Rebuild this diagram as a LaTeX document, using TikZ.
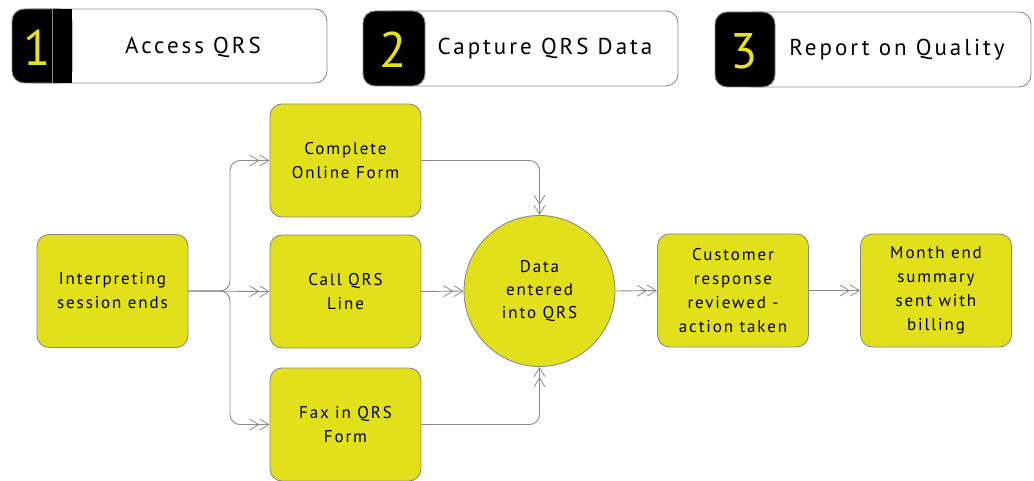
\documentclass[tikz,border=0pt]{standalone}
\usepackage{fontspec}
\setmainfont[LetterSpace=11]{PT Sans}
\usetikzlibrary{arrows.meta,positioning}
\definecolor{qyel}{HTML}{E1E01A}
\definecolor{qline}{HTML}{8A8A8A}
\definecolor{qnum}{HTML}{E6E21A}
\tikzset{
  box/.style={draw=qline, line width=0.9pt, fill=qyel, rounded corners=12pt,
    minimum width=151pt, minimum height=113pt, align=center,
    font=\fontsize{17}{24}\selectfont, inner sep=2pt},
  circ/.style={draw=qline, line width=0.9pt, fill=qyel, circle,
    minimum size=151pt, align=center, font=\fontsize{17}{23}\selectfont},
  conn/.style={draw=qline, line width=0.9pt, rounded corners=10pt,
    -{Straight Barb[length=9pt,width=11pt,line width=0.8pt]Straight Barb[length=9pt,width=11pt,line width=0.8pt]}},
  hwhite/.style={draw=qline, line width=0.9pt, fill=white, rounded corners=12pt},
  hblack/.style={draw=qline, line width=0.9pt, fill=black, rounded corners=12pt},
  htext/.style={font=\fontsize{23}{26}\selectfont\addfontfeature{LetterSpace=13}, anchor=center},
  hnum/.style={text=qnum, font=\fontsize{50}{52}\selectfont\addfontfeature{LetterSpace=0}, anchor=center},
}
\begin{document}
\begin{tikzpicture}[x=1pt,y=-1pt]
\useasboundingbox (0,0) rectangle (1034,481);
% headers
\draw[hwhite] (20,9) rectangle (327,83);
\draw[hblack] (12,9) rectangle (72,83);
\fill[black] (52,9) rectangle (72,83);
\draw[qline, line width=0.8pt] (52,9) -- (52,83);
\node[hnum] (n1) at (37,48) {1};
\node[htext] (h1) at (193,47) {Access QRS};

\draw[hwhite] (380,11) rectangle (678,86);
\draw[hblack] (363,11) rectangle (425,86);
\node[hnum] (n2) at (393,50) {2};
\node[htext] (h2) at (545,49) {Capture QRS Data};

\draw[hwhite] (740,12) rectangle (1031,87);
\draw[hblack] (715,12) rectangle (775,87);
\node[hnum] (n3) at (744,51) {3};
\node[htext] (h3) at (897,50) {Report on Quality};

% nodes
\node[box] (ise) at (112.5,291) {Interpreting\\session ends};
\node[box] (cof) at (345.5,160.5) {Complete\\Online Form};
\node[box] (cql) at (345.5,291.5) {Call QRS\\Line};
\node[box] (fax) at (345.5,424.5) {Fax in QRS\\Form};
\node[circ] (dat) at (539.5,291) {Data\\entered\\into QRS};
\node[box] (cus) at (733,290.5) {Customer\\response\\reviewed -\\action taken};
\node[box] (mon) at (936,290.5) {Month end\\summary\\sent with\\billing};

% connectors
\draw[conn] (ise.east) -- (230,291) |- (cof.west);
\draw[conn] (ise.east) -- (cql.west);
\draw[conn] (ise.east) -- (230,291) |- (fax.west);
\draw[conn] (cof.east) -| (dat.north);
\draw[conn] (cql.east) -- (dat.west);
\draw[conn] (fax.east) -| (dat.south);
\draw[conn] (dat.east) -- (cus.west);
\draw[conn] (cus.east) -- (mon.west);
\end{tikzpicture}
\end{document}
